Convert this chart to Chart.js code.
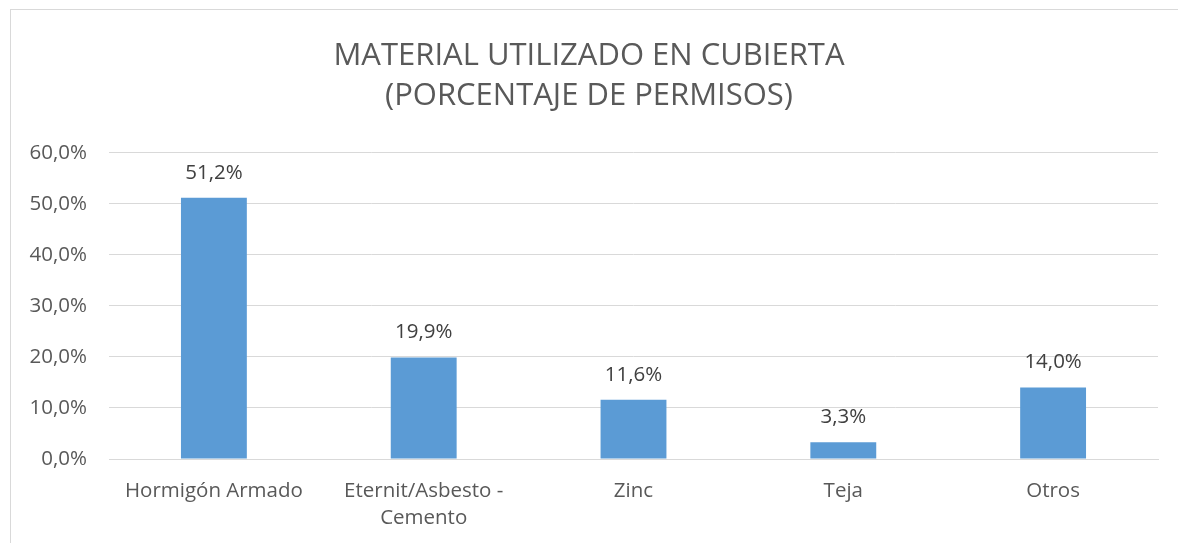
<!DOCTYPE html>
<html>
<head>
<meta charset="utf-8">
<script src="https://cdn.jsdelivr.net/npm/chart.js@4"></script>
<style>
html,body{margin:0;padding:0;background:#fff;}
#wrap{width:1178px;height:543px;position:relative;}
</style>
</head>
<body>
<div id="wrap"><canvas id="c" width="1178" height="543"></canvas></div>
<script>
const categories = [["Hormigón Armado"], ["Eternit/Asbesto -", "Cemento"], ["Zinc"], ["Teja"], ["Otros"]];
const values = [51.2, 19.9, 11.6, 3.3, 14.0];
const titleLines = ["MATERIAL UTILIZADO EN CUBIERTA", "(PORCENTAJE DE PERMISOS)"];
const yMin = 0, yMax = 60, yStep = 10;

const fmt = v => v.toFixed(1).replace('.', ',') + '%';

const borderPlugin = {
  id: 'border',
  beforeDraw(chart) {
    const ctx = chart.ctx;
    ctx.save();
    ctx.fillStyle = '#fff';
    ctx.fillRect(0, 0, chart.width, chart.height);
    ctx.strokeStyle = '#d9d9d9';
    ctx.lineWidth = 1;
    ctx.strokeRect(10.5, 9.5, 1300, 700);
    ctx.restore();
  }
};

const labelPlugin = {
  id: 'vlabels',
  afterDatasetsDraw(chart) {
    const ctx = chart.ctx;
    const meta = chart.getDatasetMeta(0);
    ctx.save();
    ctx.font = '20.5px "Open Sans"';
    ctx.fillStyle = '#404040';
    ctx.textAlign = 'center';
    ctx.textBaseline = 'middle';
    meta.data.forEach((bar, i) => {
      ctx.fillText(fmt(values[i]), bar.x, bar.y - 25);
    });
    ctx.restore();
  }
};

new Chart(document.getElementById('c'), {
  type: 'bar',
  data: {
    labels: categories,
    datasets: [{
      data: values,
      backgroundColor: '#5B9BD5',
      borderWidth: 0,
      categoryPercentage: 1.0,
      barPercentage: 0.314
    }]
  },
  options: {
    responsive: false,
    animation: false,
    layout: { padding: { left: 20, right: 20, top: 0, bottom: 0 } },
    plugins: {
      legend: { display: false },
      tooltip: { enabled: false },
      title: {
        display: true,
        text: titleLines,
        color: '#595959',
        font: { family: '"Open Sans"', size: 31, weight: 'normal', lineHeight: 1.29 },
        padding: { top: 36, bottom: 37 }
      }
    },
    scales: {
      x: {
        grid: { display: false },
        border: { display: true, color: '#d9d9d9', width: 1 },
        ticks: {
          color: '#595959',
          font: { family: '"Open Sans"', size: 20.5, lineHeight: 1.35 },
          padding: 10,
          maxRotation: 0,
          autoSkip: false
        },
        afterFit(scale) { scale.height = 84; }
      },
      y: {
        min: yMin, max: yMax,
        grid: { color: '#d9d9d9', lineWidth: 1, drawTicks: false },
        border: { display: false },
        ticks: {
          stepSize: yStep,
          color: '#595959',
          font: { family: '"Open Sans"', size: 20.5 },
          padding: 22,
          callback: v => fmt(v)
        },
        afterFit(scale) { scale.width = 89; }
      }
    }
  },
  plugins: [borderPlugin, labelPlugin]
});
</script>
</body>
</html>
